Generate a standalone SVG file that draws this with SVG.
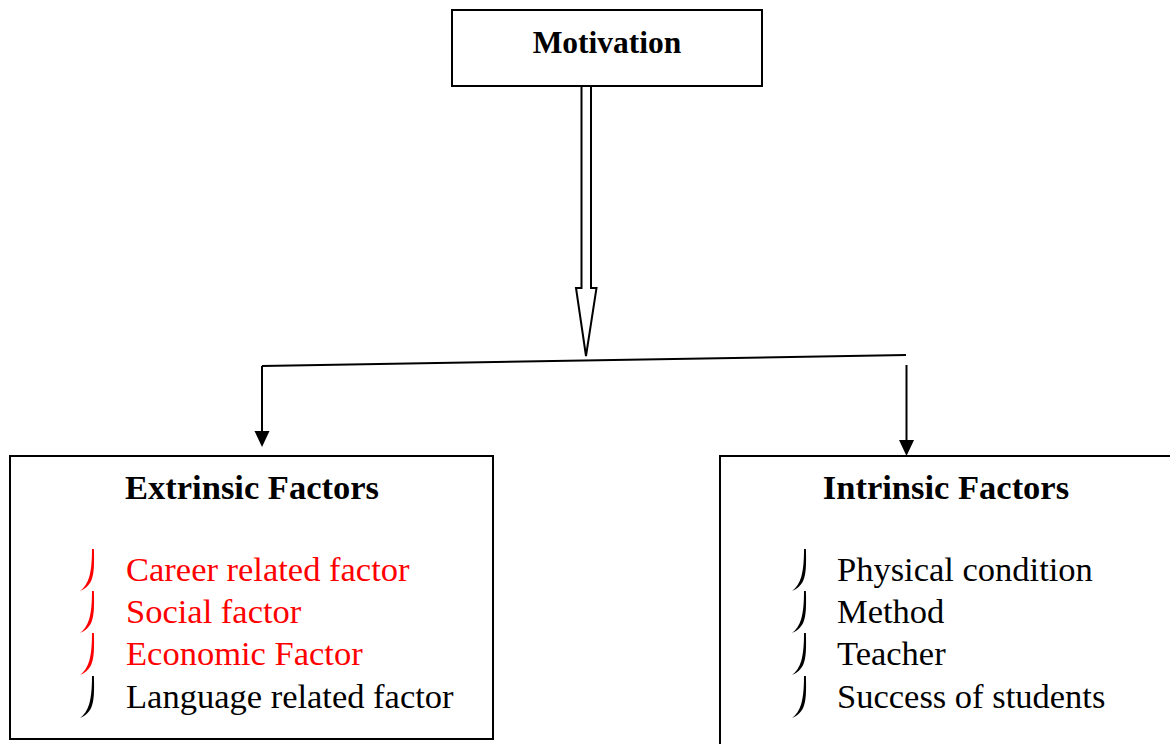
<svg xmlns="http://www.w3.org/2000/svg" width="1170" height="744" viewBox="0 0 1170 744">
<style>
.box{fill:#fff;stroke:#000;stroke-width:2}
.ln{fill:none;stroke:#000;stroke-width:2}
.t{font-family:"Liberation Serif","Times New Roman",serif;font-size:34.5px}
.b{font-weight:bold}
.red{fill:#ff0000}
.blk{fill:#000}
</style>
<defs>
<path id="bul" d="M0.9,0 C1.3,14 1.3,24 -1.5,31 C-4,37 -9,40.5 -13,42 C-9,39 -5.5,34 -3.8,28 C-1.8,21 -1,12 -1,0 Z"/>
</defs>
<rect width="1170" height="744" fill="#fff"/>
<g id="connectors">
<polygon class="ln" points="581.5,86 581.5,288 576,288 586,356 596.5,288 591,288 591,86"/>
<line class="ln" x1="262" y1="366" x2="906" y2="355"/>
<path class="ln" d="M262,366 V431"/>
<path d="M254.5,431 L269.5,431 L262,447 Z" fill="#000"/>
<path class="ln" d="M906.5,365 V440"/>
<path d="M899,440 L914,440 L906.5,456 Z" fill="#000"/>
</g>
<g id="motivation">
<rect class="box" x="452" y="10" width="310" height="76"/>
<text class="t b" x="607" y="53" text-anchor="middle" style="font-size:31.5px">Motivation</text>
</g>
<g id="extrinsic">
<rect class="box" x="10" y="456" width="483" height="283"/>
<text class="t b" x="252" y="499" text-anchor="middle">Extrinsic Factors</text>
<use href="#bul" x="93" y="549" class="red"/>
<use href="#bul" x="93" y="591" class="red"/>
<use href="#bul" x="93" y="633" class="red"/>
<use href="#bul" x="93" y="676" class="blk"/>
<text class="t red" x="126" y="581">Career related factor</text>
<text class="t red" x="126" y="623">Social factor</text>
<text class="t red" x="126" y="665">Economic Factor</text>
<text class="t" x="126" y="708">Language related factor</text>
</g>
<g id="intrinsic">
<rect class="box" x="720" y="456" width="460" height="300"/>
<text class="t b" x="946" y="499" text-anchor="middle">Intrinsic Factors</text>
<use href="#bul" x="805" y="549"/>
<use href="#bul" x="805" y="591"/>
<use href="#bul" x="805" y="633"/>
<use href="#bul" x="805" y="676"/>
<text class="t" x="837" y="581">Physical condition</text>
<text class="t" x="837" y="623">Method</text>
<text class="t" x="837" y="665">Teacher</text>
<text class="t" x="837" y="708">Success of students</text>
</g>
</svg>
